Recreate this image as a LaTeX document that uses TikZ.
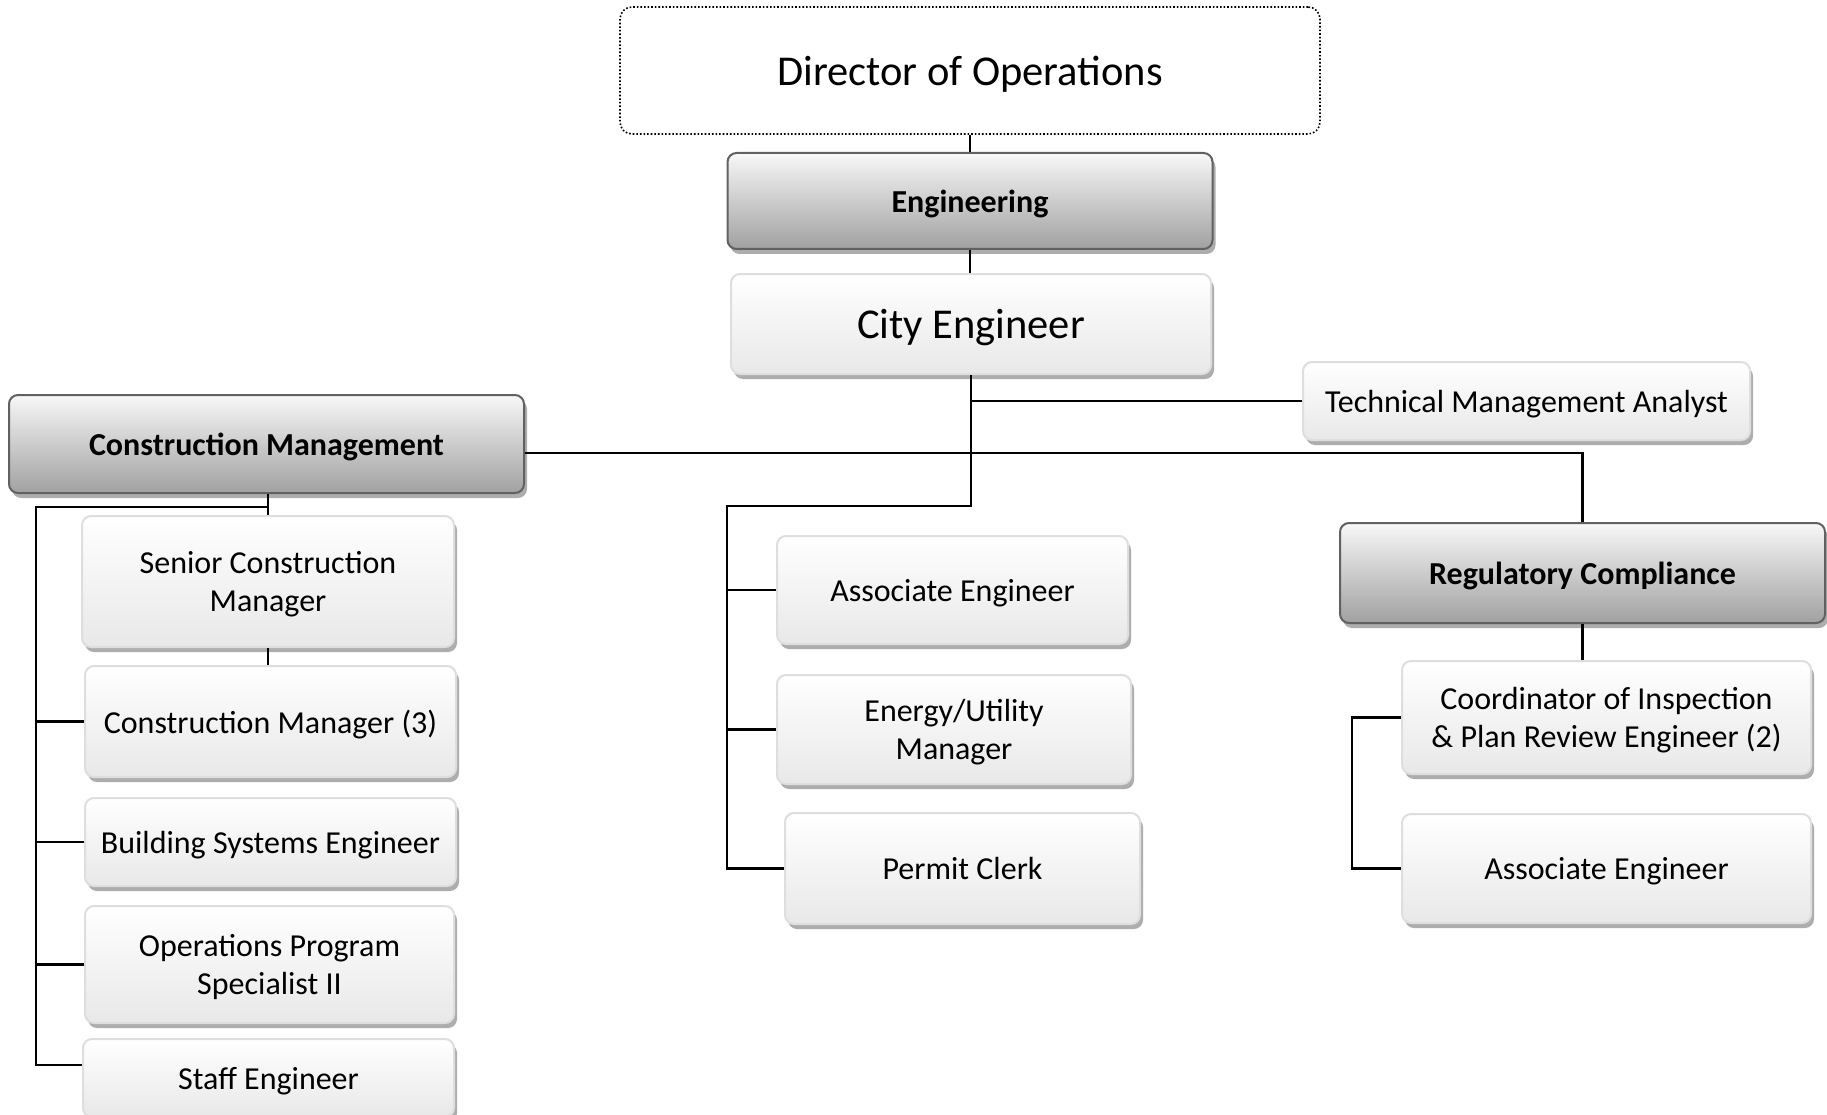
\documentclass[tikz,border=0pt]{standalone}
\usepackage{fontspec}
\setmainfont{Carlito}
\usetikzlibrary{shadows}
\tikzset{
  base/.style={rounded corners=9pt, line width=2pt, align=center, inner sep=0pt, text=black,
    text depth=0pt,
    drop shadow={shadow xshift=3pt, shadow yshift=-5pt, fill=black!32, opacity=1}},
  lightbox/.style={base, draw=black!13, top color=white, bottom color=black!9,
    font=\fontsize{32}{38.5}\selectfont},
  darkbox/.style={base, draw=black!62, top color=black!3, bottom color=black!37,
    font=\fontsize{32}{38.5}\selectfont\bfseries},
  bigbox/.style={lightbox, font=\fontsize{42.5}{48}\selectfont},
  dirbox/.style={rounded corners=12pt, draw=black, line width=1.6pt, dotted, fill=white,
    inner sep=0pt, align=center, text depth=0pt, font=\fontsize{42.5}{48}\selectfont},
  conn/.style={line width=2.6pt, draw=black}
}
\begin{document}
\begin{tikzpicture}[x=1pt,y=1pt]
\useasboundingbox[fill=white] (0,0) rectangle (1827,-1115);
% boxes
\node[dirbox, minimum width=700pt, minimum height=127pt] (dir) at (970,-70.5) {Director of Operations};
\node[darkbox, minimum width=485pt, minimum height=96pt] (eng) at (970,-201) {Engineering};
\node[bigbox, minimum width=480pt, minimum height=100pt] (ce) at (971,-324) {City Engineer};
\node[lightbox, minimum width=447pt, minimum height=78pt] (tma) at (1526.5,-401) {Technical Management Analyst};
\node[darkbox, minimum width=515pt, minimum height=98pt] (cm) at (266.5,-444) {Construction Management};
\node[lightbox, minimum width=372pt, minimum height=131pt] (scm) at (268,-581.5) {Senior Construction\\Manager};
\node[lightbox, minimum width=371pt, minimum height=111pt] (cmt) at (270.5,-721.5) {Construction Manager (3)};
\node[lightbox, minimum width=371pt, minimum height=88pt] (bse) at (270.5,-842) {Building Systems Engineer};
\node[lightbox, minimum width=369pt, minimum height=117pt] (ops) at (269.5,-964.5) {Operations Program\\Specialist II};
\node[lightbox, minimum width=371pt, minimum height=78pt] (staff) at (268.5,-1078) {Staff Engineer};
\node[lightbox, minimum width=351pt, minimum height=108pt] (ae) at (952.5,-590) {Associate Engineer};
\node[lightbox, minimum width=354pt, minimum height=109pt] (en) at (954,-729.5) {Energy/Utility\\Manager};
\node[lightbox, minimum width=355pt, minimum height=111pt] (pc) at (962.5,-868.5) {Permit Clerk};
\node[darkbox, minimum width=485pt, minimum height=100pt] (rc) at (1582.5,-573) {Regulatory Compliance};
\node[lightbox, minimum width=409pt, minimum height=113pt] (co) at (1606.5,-717.5) {Coordinator of Inspection\\\& Plan Review Engineer (2)};
\node[lightbox, minimum width=409pt, minimum height=109pt] (ar) at (1606.5,-868.5) {Associate Engineer};
% helper coordinates
\coordinate (cj) at (971,-506);
\coordinate (cl) at (727,-506);
\coordinate (hy) at (0,-453);
\coordinate (lj) at (268,-507);
\coordinate (ll) at (36,-507);
\coordinate (sy) at (0,-1065);
\coordinate (rb) at (1352,0);
% connectors
\draw[conn] (dir.south) -- (dir.south |- eng.north);
\draw[conn] (eng.south) -- (eng.south |- ce.north);
\draw[conn] (ce.south) -- (cj) -- (cl) |- (pc.west);
\draw[conn] (cl |- ae.west) -- (ae.west);
\draw[conn] (cl |- en.west) -- (en.west);
\draw[conn] (ce.south |- tma.west) -- (tma.west);
\draw[conn] (cm.east |- hy) -- (rc.north |- hy) -- (rc.north);
\draw[conn] (lj |- cm.south) -- (lj |- scm.north);
\draw[conn] (lj) -- (ll) |- (staff.west |- sy);
\draw[conn] (lj |- scm.south) -- (lj |- cmt.north);
\draw[conn] (ll |- cmt.west) -- (cmt.west);
\draw[conn] (ll |- bse.west) -- (bse.west);
\draw[conn] (ll |- ops.west) -- (ops.west);
\draw[conn] (rc.south) -- (rc.south |- co.north);
\draw[conn] (co.west) -- (co.west -| rb) |- (ar.west);
\end{tikzpicture}
\end{document}
